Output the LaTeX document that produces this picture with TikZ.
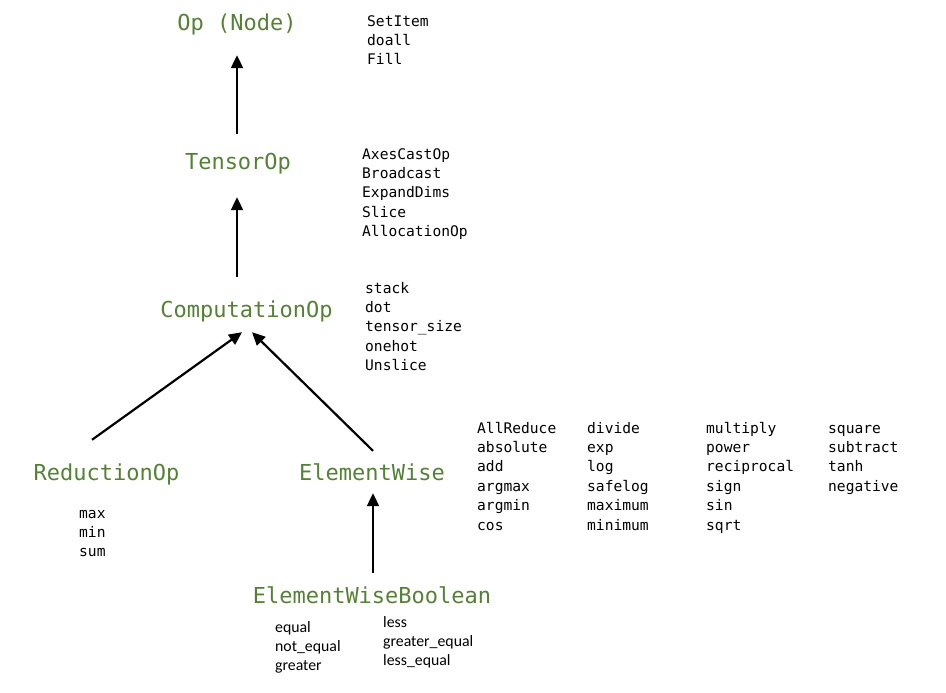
\documentclass[tikz,border=0pt]{standalone}
\usepackage{fontspec}
\setmonofont{DejaVu Sans Mono}
\newfontfamily\boolfont{Carlito}
\usetikzlibrary{arrows.meta}
\definecolor{clsgreen}{RGB}{84,130,53}

\begin{document}
\begin{tikzpicture}[x=1pt, y=-1pt,
  cls/.style={text=clsgreen, font=\ttfamily\fontsize{22}{26}\selectfont,
    inner sep=0pt, text height=16pt, text depth=5pt, anchor=base},
  items/.style={font=\ttfamily\fontsize{14.6}{19.4}\selectfont,
    align=left, inner sep=0pt, anchor=base west},
  boolitems/.style={font=\boolfont\fontsize{15.8}{19.2}\selectfont,
    align=left, inner sep=0pt, anchor=base west},
  arr/.style={-{Triangle[length=13pt,width=12pt]}, line width=2.2pt}]
  \useasboundingbox (0,0) rectangle (946,693);

  % class hierarchy
  \node[cls] (op)     at (237,31)    {Op (Node)};
  \node[cls] (tensor) at (238,169)   {TensorOp};
  \node[cls] (comp)   at (246.5,317) {ComputationOp};
  \node[cls] (red)    at (106.5,480) {ReductionOp};
  \node[cls] (ew)     at (372,480)   {ElementWise};
  \node[cls] (ewb)    at (372,603)   {ElementWiseBoolean};

  % member lists (placed at the baseline of their last line)
  \node[items] (opitems)     at (367,64.8)  {SetItem\\doall\\Fill};
  \node[items] (tensoritems) at (362,236.6) {AxesCastOp\\Broadcast\\ExpandDims\\Slice\\AllocationOp};
  \node[items] (compitems)   at (365,370.6) {stack\\dot\\tensor\_size\\onehot\\Unslice};
  \node[items] (reditems)    at (79,556.8)  {max\\min\\sum};
  \node[items] (ewitemsA) at (477,530) {AllReduce\\absolute\\add\\argmax\\argmin\\cos};
  \node[items] (ewitemsB) at (587,530) {divide\\exp\\log\\safelog\\maximum\\minimum};
  \node[items] (ewitemsC) at (706,530) {multiply\\power\\reciprocal\\sign\\sin\\sqrt};
  \node[items] (ewitemsD) at (828,491.2) {square\\subtract\\tanh\\negative};
  \node[boolitems] (boolitemsA) at (275,670.4) {equal\\not\_equal\\greater};
  \node[boolitems] (boolitemsB) at (383,665.4) {less\\greater\_equal\\less\_equal};

  % inheritance arrows
  \draw[arr] ([xshift=-1pt,yshift=19pt]tensor.north) -- ([yshift=-19pt]op.south);
  \draw[arr] ([xshift=-9.5pt,yshift=24pt]comp.north) -- ([xshift=-1pt,yshift=-23pt]tensor.south);
  \draw[arr] ([xshift=-14.5pt,yshift=24pt]red.north) -- ([xshift=-4.5pt,yshift=-10pt]comp.south);
  \draw[arr] ([xshift=1pt,yshift=13pt]ew.north) -- ([xshift=5.5pt,yshift=-10pt]comp.south);
  \draw[arr] ([xshift=1pt,yshift=14pt]ewb.north) -- ([xshift=1pt,yshift=-8pt]ew.south);
\end{tikzpicture}
\end{document}
